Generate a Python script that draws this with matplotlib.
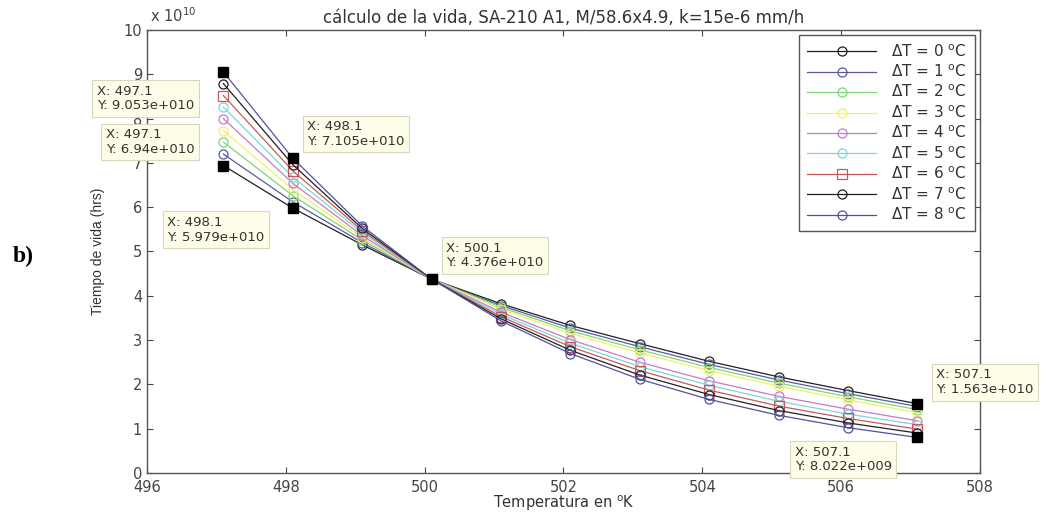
import numpy as np
import matplotlib
matplotlib.use("Agg")
import matplotlib.pyplot as plt

plt.rcParams['font.family'] = ['DejaVu Sans']

# temperatura (K)
temps = [497.1, 498.1, 499.1, 500.1, 501.1, 502.1, 503.1, 504.1, 505.1, 506.1, 507.1]

# tiempo de vida (x 1e10 hrs), una serie por delta T
vida_dt0 = [6.94, 5.979, 5.15, 4.376, 3.82, 3.33, 2.92, 2.52, 2.17, 1.86, 1.563]
vida_dt1 = [7.20, 6.12, 5.20, 4.376, 3.78, 3.27, 2.85, 2.45, 2.10, 1.79, 1.50]
vida_dt2 = [7.47, 6.26, 5.26, 4.376, 3.74, 3.21, 2.78, 2.38, 2.03, 1.72, 1.43]
vida_dt3 = [7.73, 6.40, 5.31, 4.376, 3.70, 3.15, 2.71, 2.31, 1.96, 1.65, 1.36]
vida_dt4 = [8.00, 6.54, 5.36, 4.376, 3.63, 3.01, 2.50, 2.08, 1.73, 1.44, 1.18]
vida_dt5 = [8.26, 6.68, 5.42, 4.376, 3.58, 2.93, 2.40, 1.98, 1.62, 1.33, 1.09]
vida_dt6 = [8.52, 6.82, 5.47, 4.376, 3.53, 2.85, 2.31, 1.87, 1.51, 1.23, 0.99]
vida_dt7 = [8.79, 6.96, 5.52, 4.376, 3.48, 2.77, 2.21, 1.77, 1.41, 1.13, 0.90]
vida_dt8 = [9.053, 7.105, 5.575, 4.376, 3.434, 2.695, 2.115, 1.66, 1.302, 1.022, 0.8022]

series = [vida_dt0, vida_dt1, vida_dt2, vida_dt3, vida_dt4,
          vida_dt5, vida_dt6, vida_dt7, vida_dt8]
labels = [r'$\Delta$T = %d $^{\rm o}$C' % k for k in range(9)]
colors = ['#202020', '#5a5aa0', '#78d878', '#f2f060', '#c878c8',
          '#78d8d8', '#c85858', '#202020', '#5050a0']
markers = ['o'] * 6 + ['s'] + ['o'] * 2

# data tips: punto marcado y texto
tips_x = [497.1, 497.1, 498.1, 498.1, 500.1, 507.1, 507.1]
tips_y = [9.053, 6.94, 7.105, 5.979, 4.376, 1.563, 0.8022]
tips_txt = ['X: 497.1\nY: 9.053e+010', 'X: 497.1\nY: 6.94e+010',
            'X: 498.1\nY: 7.105e+010', 'X: 498.1\nY: 5.979e+010',
            'X: 500.1\nY: 4.376e+010', 'X: 507.1\nY: 1.563e+010',
            'X: 507.1\nY: 8.022e+009']
box_x = [495.28, 495.41, 498.31, 496.29, 500.31, 507.37, 505.33]
box_y = [8.76, 7.78, 7.96, 5.80, 5.22, 2.36, 0.62]

fig = plt.figure(figsize=(10.51, 5.12), dpi=100)
ax = fig.add_axes([0.1399, 0.0762, 0.7925, 0.8652])

for vals, lab, c, m in zip(series, labels, colors, markers):
    ax.plot(temps, vals, color=c, marker=m, ms=6.5, mfc='none', mec=c,
            mew=0.9, lw=0.9, label=lab)

ax.plot(tips_x, tips_y, 's', color='black', ms=6.5, zorder=5)
for bx, by, t in zip(box_x, box_y, tips_txt):
    ax.text(bx, by, t, ha='left', va='top', fontsize=9.5, color='#333333',
            linespacing=1.15, clip_on=False, zorder=6,
            bbox=dict(boxstyle='square,pad=0.35', fc='#fdfde8', ec='#d8d8c0', lw=0.8))

ax.set_xlim(496, 508)
ax.set_ylim(0, 10)
ax.set_xticks(np.arange(496, 509, 2))
ax.set_yticks(np.arange(0, 11, 1))
ax.tick_params(direction='in', top=True, right=True, labelsize=10.5,
               colors='#444444', length=4)
ax.tick_params(axis='x', pad=5)
for s in ax.spines.values():
    s.set_color('#555555')
    s.set_linewidth(1.0)

ax.set_title('cálculo de la vida, SA-210 A1, M/58.6x4.9, k=15e-6 mm/h',
             fontsize=12, color='#333333', pad=5)
ax.set_xlabel(r'Temperatura en $^{\rm o}$K', fontsize=10.5, color='#333333', labelpad=-1)
ax.set_ylabel('Tiempo de vida (hrs)', fontsize=10, family='Liberation Sans',
              color='#333333', labelpad=13)
ax.text(0.003, 1.012, r'x 10$^{10}$', transform=ax.transAxes, fontsize=10.5,
        color='#444444', ha='left', va='bottom')

leg = ax.legend(loc='upper right', fontsize=11, handlelength=4.5,
                labelspacing=0.25, borderaxespad=0.3, fancybox=False,
                framealpha=1, edgecolor='#555555', borderpad=0.55,
                handletextpad=1.0)
leg.get_frame().set_linewidth(1.0)
for t in leg.get_texts():
    t.set_color('#333333')

fig.text(0.012, 0.5, 'b)', fontsize=17, fontweight='bold',
         family='Liberation Serif', va='center', ha='left')

fig.savefig('out.png', dpi=100)
